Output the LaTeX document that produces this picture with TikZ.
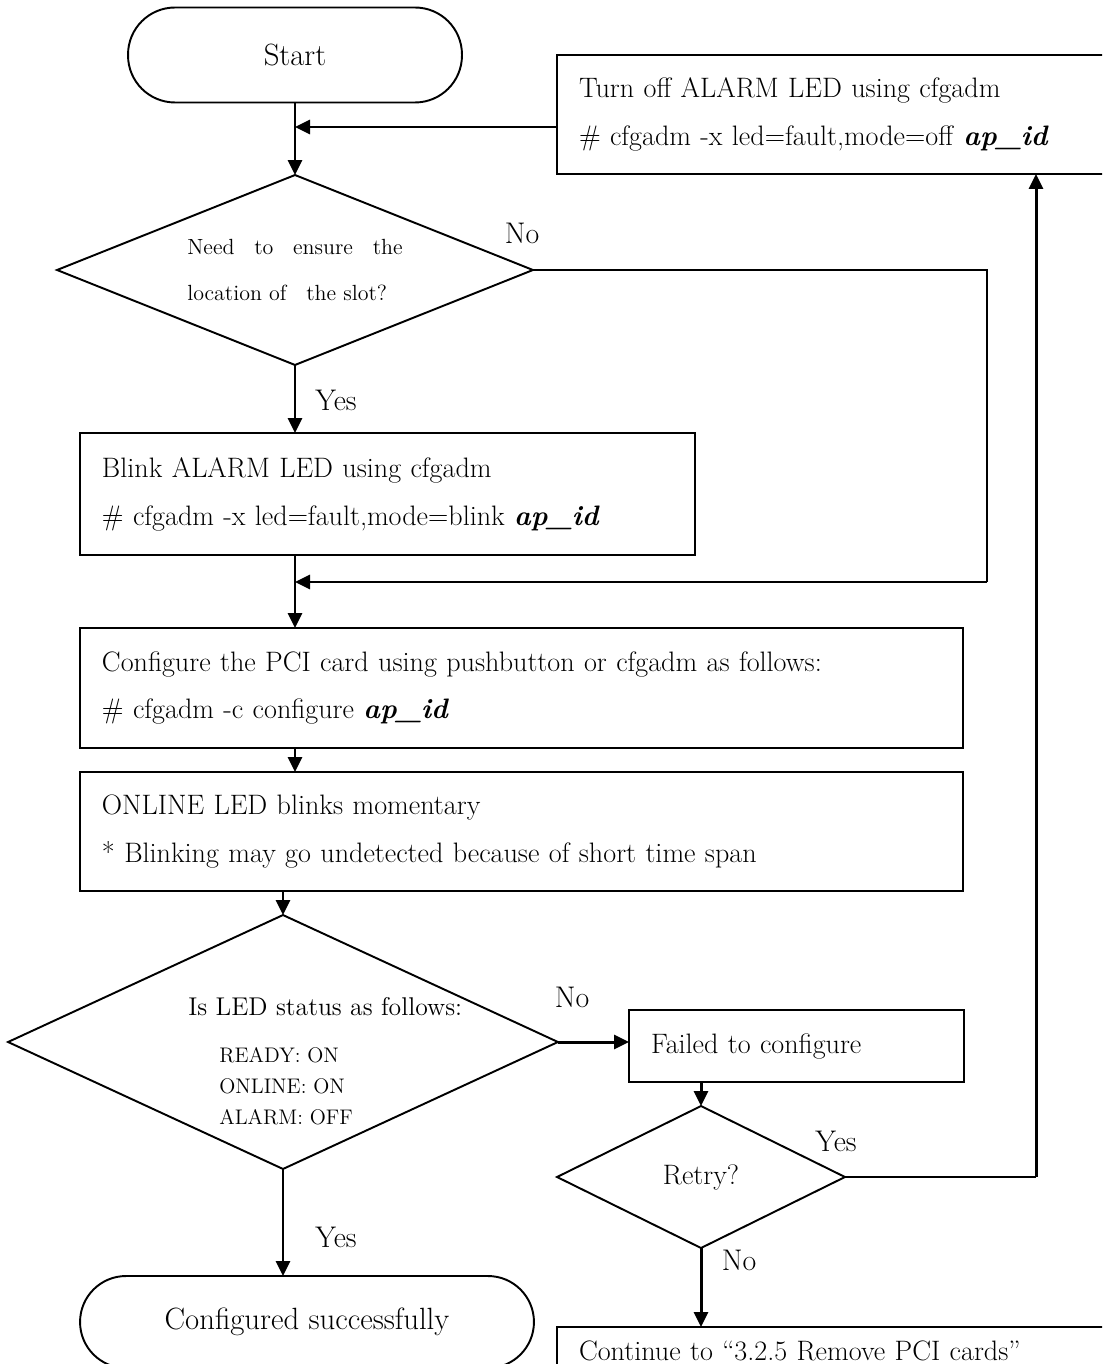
\documentclass[tikz,border=0pt]{standalone}
\usepackage{fontspec}
\usetikzlibrary{arrows.meta, positioning, shapes.geometric, calc}

\begin{document}
\begin{tikzpicture}[
    x=0.02cm, y=-0.02cm,
    font=\fontsize{16}{27.3}\selectfont,
    proc/.style={draw, line width=1.1pt, anchor=north west, align=left, inner xsep=0.44cm, inner ysep=0pt, outer sep=0pt},
    decide/.style={draw, diamond, line width=1.1pt, inner sep=0pt, outer sep=0pt, aspect=2.5},
    term/.style={draw, line width=1.1pt, rounded corners=0.94cm, minimum height=1.9cm, outer sep=0pt, font=\fontsize{17.5}{20}\selectfont},
    arrow/.style={-{Triangle[length=0.3cm, width=0.28cm]}, line width=1.7pt},
    plain/.style={line width=1.1pt},
    lbl/.style={inner sep=0pt, font=\fontsize{17}{20}\selectfont}
]
\path[use as bounding box, clip] (0,0) rectangle (1102,1364);

% Start and the loop back from the right
\node[term, minimum width=6.68cm] (start) at (295,55) {Start};
\node[proc, text width=11.12cm, minimum height=2.38cm] (turnoff) at (557,55) {Turn off ALARM LED using cfgadm\\\# cfgadm -x led=fault,mode=off \textbf{\textit{ap\_id}}};
\coordinate (j1) at (295,127);

% First question
\node[decide, minimum width=9.52cm, minimum height=3.8cm, align=left, font=\fontsize{12.5}{26.7}\selectfont] (locq) at (295,270)
    {Need\hspace{0.9em}to\hspace{0.9em}ensure\hspace{0.9em}the\\location of\hspace{0.9em}the slot?};
\node[lbl] (no1) at (522,233) {No};
\node[lbl] (yes1) at (336,400) {Yes};

\node[proc, text width=11.42cm, minimum height=2.44cm] (blink) at (80,433) {Blink ALARM LED using cfgadm\\\# cfgadm -x led=fault,mode=blink \textbf{\textit{ap\_id}}};
\coordinate (j2) at (295,582);
\coordinate (nocorner) at (987,582);

% Configure steps
\node[proc, text width=16.78cm, minimum height=2.4cm] (config) at (80,628) {Configure the PCI card using pushbutton or cfgadm as follows:\\\# cfgadm -c configure \textbf{\textit{ap\_id}}};
\node[proc, text width=16.78cm, minimum height=2.38cm] (online) at (80,772) {ONLINE LED blinks momentary\\{*} Blinking may go undetected because of short time span};

% LED check
\node[decide, minimum width=11cm, minimum height=5.08cm] (ledq) at (283,1042) {};
\node[lbl, anchor=west, font=\fontsize{14.6}{17}\selectfont] (ledhead) at (188,1007) {Is LED status as follows:};
\node[lbl, anchor=west, align=left, font=\fontsize{12}{17.7}\selectfont] (ledlist) at (219,1086) {READY: ON\\ONLINE: ON\\ALARM: OFF};
\node[lbl] (no2) at (572,997) {No};
\node[lbl] (yes3) at (336,1237) {Yes};

% Failure branch
\node[proc, text width=5.82cm, minimum height=1.44cm] (failed) at (629,1010) {Failed to configure};
\node[decide, minimum width=5.76cm, minimum height=2.84cm] (retry) at (701,1177) {Retry?};
\node[lbl] (yes2) at (836,1141) {Yes};
\node[lbl] (no3) at (739,1260) {No};
\coordinate (retcorner) at (1036,1177);
\node[proc, text width=11.12cm, minimum height=0.96cm] (cont) at (557,1327) {Continue to ``3.2.5 Remove PCI cards''};

\node[term, minimum width=9.08cm, minimum height=1.84cm, rounded corners=0.92cm] (done) at (307,1322) {Configured successfully};

% Connectors
\draw[arrow] (start.south) -- (locq.north);
\draw[arrow] (turnoff.west |- j1) -- (j1);
\draw[plain] (locq.east) -| (nocorner);
\draw[arrow] (nocorner) -- (j2);
\draw[arrow] (locq.south) -- (locq.south |- blink.north);
\draw[arrow] (j2 |- blink.south) -- (j2 |- config.north);
\draw[arrow] (j2 |- config.south) -- (j2 |- online.north);
\draw[arrow] (ledq.north |- online.south) -- (ledq.north);
\draw[arrow] (ledq.east) -- (ledq.east -| failed.west);
\draw[arrow] (retry.north |- failed.south) -- (retry.north);
\draw[plain] (retry.east) -- (retcorner);
\draw[arrow] (retcorner) -- (retcorner |- turnoff.south);
\draw[arrow] (retry.south) -- (retry.south |- cont.north);
\draw[arrow] (ledq.south) -- (ledq.south |- done.north);
\end{tikzpicture}
\end{document}
